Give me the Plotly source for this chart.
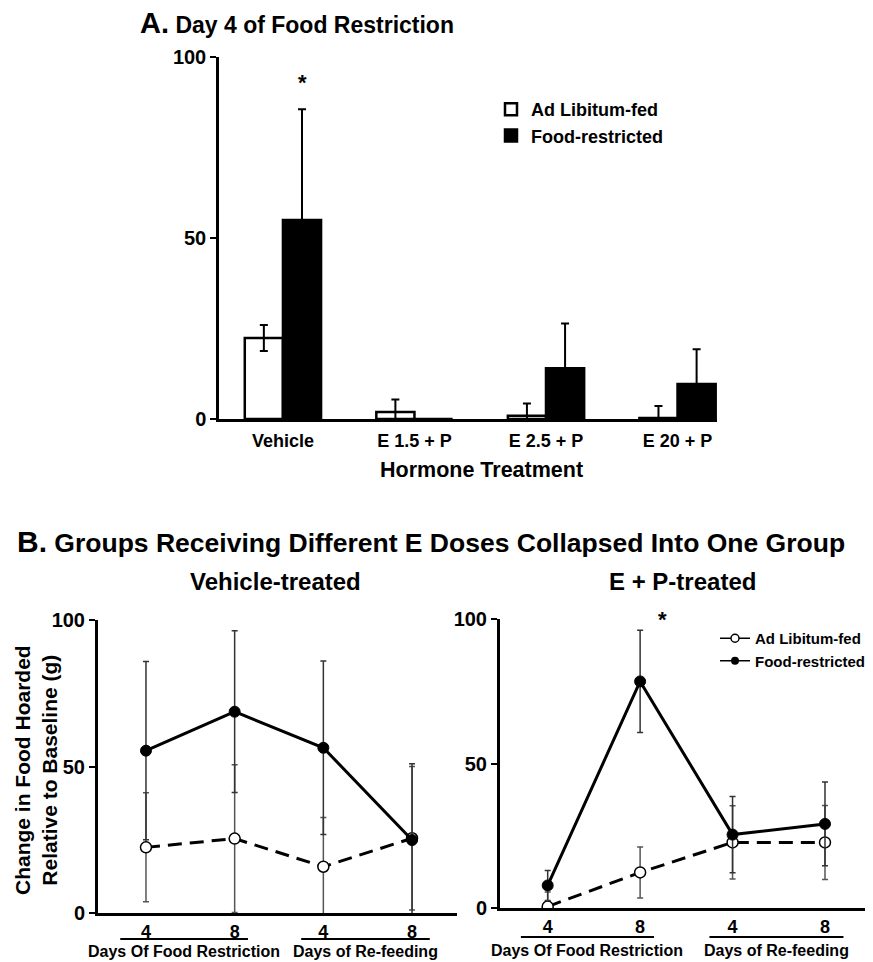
import plotly.graph_objects as go

# page has an 8px body margin; figure sized to fill the visible window
OFF = 8
W, H = 873 - OFF, 962 - OFF

# ---------------- Data ----------------
# Panel A
treatments = ["Vehicle", "E 1.5 + P", "E 2.5 + P", "E 20 + P"]
a_adlib = [22.4, 1.9, 0.9, 0.3]
a_adlib_err = [3.6, 3.5, 3.4, 3.3]
a_restr = [55.0, 0.0, 14.0, 9.7]
a_restr_err = [30.6, 0.0, 12.4, 9.6]

# Panel B
day_ticks = ["4", "8", "4", "8"]
day_pos = [0, 1, 2, 3]
veh_restr = [55.4, 68.7, 56.4, 24.9]
veh_restr_err = [30.4, 27.6, 29.6, 26.0]
veh_adlib = [22.4, 25.4, 15.8, 25.5]
veh_adlib_err = [18.6, 25.2, 16.8, 24.5]
ep_restr = [7.8, 78.4, 25.4, 29.1]
ep_restr_err = [5.2, 17.7, 13.2, 14.5]
ep_adlib = [0.5, 12.3, 22.7, 22.7]
ep_adlib_err = [5.0, 8.8, 12.7, 12.8]

FONT = "Liberation Sans, Arial, Helvetica, sans-serif"

def px_x(p):
    return (p - OFF) / W

def px_y(p):
    return 1 - (p - OFF) / H

fig = go.Figure()

# ---------------- Panel A bars ----------------
fig.add_trace(go.Bar(
    x=treatments, y=a_adlib, name="Ad Libitum-fed",
    marker=dict(color="white", line=dict(color="black", width=2.5)),
    error_y=dict(type="data", array=a_adlib_err, visible=True,
                 color="black", thickness=2, width=4),
    xaxis="x", yaxis="y", legend="legend",
))
fig.add_trace(go.Bar(
    x=treatments, y=a_restr, name="Food-restricted",
    marker=dict(color="black", line=dict(color="black", width=2.5)),
    error_y=dict(type="data", array=a_restr_err, visible=True,
                 color="black", thickness=2, width=4),
    xaxis="x", yaxis="y", legend="legend",
))

# ---------------- Panel B lines ----------------
def add_pair(xa, ya, adlib, adlib_err, restr, restr_err):
    fig.add_trace(go.Scatter(
        x=day_pos, y=adlib, mode="lines+markers", showlegend=False,
        line=dict(color="black", width=3, dash="14px,8px"),
        marker=dict(size=11, color="white", line=dict(color="black", width=1.5)),
        error_y=dict(type="data", array=adlib_err, visible=True,
                     color="#555555", thickness=1.5, width=3),
        xaxis=xa, yaxis=ya, cliponaxis=True,
    ))
    fig.add_trace(go.Scatter(
        x=day_pos, y=restr, mode="lines+markers", showlegend=False,
        line=dict(color="black", width=3),
        marker=dict(size=11, color="black", line=dict(color="black", width=1)),
        error_y=dict(type="data", array=restr_err, visible=True,
                     color="#333333", thickness=1.5, width=3),
        xaxis=xa, yaxis=ya, cliponaxis=True,
    ))

add_pair("x2", "y2", veh_adlib, veh_adlib_err, veh_restr, veh_restr_err)
add_pair("x3", "y3", ep_adlib, ep_adlib_err, ep_restr, ep_restr_err)

# legend-only entries for panel B
fig.add_trace(go.Scatter(
    x=[None], y=[None], mode="lines+markers", name="Ad Libitum-fed",
    line=dict(color="black", width=1.5),
    marker=dict(size=8, color="white", line=dict(color="black", width=1.5)),
    xaxis="x3", yaxis="y3", legend="legend2",
))
fig.add_trace(go.Scatter(
    x=[None], y=[None], mode="lines+markers", name="Food-restricted",
    line=dict(color="black", width=1.5),
    marker=dict(size=8, color="black"),
    xaxis="x3", yaxis="y3", legend="legend2",
))

# ---------------- Axes ----------------
common_x = dict(showline=True, linecolor="black", showgrid=False, zeroline=False,
                ticks="", fixedrange=True, automargin=False,
                tickfont=dict(family=FONT, size=18, color="black", weight="bold"))
common_y = dict(showline=True, linecolor="black", showgrid=False, zeroline=False,
                ticks="outside", ticklen=6, tickwidth=2, tickcolor="black",
                range=[0, 100], tickvals=[0, 50, 100], automargin=False,
                tickfont=dict(family=FONT, size=20, color="black", weight="bold"))

fig.update_layout(
    xaxis=dict(common_x, domain=[px_x(219), px_x(717)], range=[-0.486, 3.30],
               type="category", categoryorder="array", categoryarray=treatments,
               linewidth=2.5, anchor="y", ticklabelstandoff=4),
    yaxis=dict(common_y, domain=[px_y(419), px_y(57)], linewidth=2.5, anchor="x"),
    xaxis2=dict(common_x, domain=[px_x(98), px_x(457)], range=[-0.541, 3.507],
                tickvals=day_pos, ticktext=day_ticks, linewidth=3, anchor="y2"),
    yaxis2=dict(common_y, domain=[px_y(913), px_y(620)], linewidth=3, anchor="x2"),
    xaxis3=dict(common_x, domain=[px_x(500), min(1.0, px_x(870))], range=[-0.516, 3.487],
                tickvals=day_pos, ticktext=day_ticks, linewidth=3, anchor="y3"),
    yaxis3=dict(common_y, domain=[px_y(908), px_y(619)], linewidth=3, anchor="x3"),
)

fig.update_layout(
    width=W, height=H,
    margin=dict(l=0, r=0, t=0, b=0, pad=0, autoexpand=False),
    paper_bgcolor="white", plot_bgcolor="white",
    barmode="group", bargap=0.42, bargroupgap=0,
    font=dict(family=FONT, color="black"),
    legend=dict(x=px_x(491), y=px_y(91), xanchor="left", yanchor="top",
                bgcolor="rgba(0,0,0,0)", tracegroupgap=0,
                font=dict(family=FONT, size=18, color="black", weight="bold")),
    legend2=dict(x=px_x(715), y=px_y(622), xanchor="left", yanchor="top",
                 bgcolor="rgba(0,0,0,0)", tracegroupgap=0,
                 font=dict(family=FONT, size=15, color="black", weight="bold")),
)

# ---------------- Text annotations ----------------
ann = []
def text(x, y, s, size, xanchor="center", textangle=0):
    ann.append(dict(x=px_x(x), y=px_y(y), xref="paper", yref="paper", text=s,
                    showarrow=False, xanchor=xanchor, yanchor="middle",
                    textangle=textangle,
                    font=dict(family=FONT, size=size, color="black", weight="bold")))

text(138, 23, "<span style='font-size:29px'>A.</span> Day 4 of Food Restriction", 23, xanchor="left")
text(481, 470, "Hormone Treatment", 21.5)
text(302, 82, "*", 22)
text(15, 541, "<span style='font-size:30px'>B.</span> Groups Receiving Different E Doses Collapsed Into One Group", 26.5, xanchor="left")
text(275, 581, "Vehicle-treated", 24)
text(682, 581, "E + P-treated", 24)
text(662, 619, "*", 22)
text(36, 770, "Change in Food Hoarded<br>Relative to Baseline (g)", 21, textangle=-90)

# group labels under panel B x axes
shapes = []
groups = [("x2", 951, "Days Of Food Restriction", "Days of Re-feeding", 939),
          ("x3", 950, "Days Of Food Restriction", "Days of Re-feeding", 937)]
for xa, ty, g1, g2, ly in groups:
    for (x0, x1, lab) in [(-0.29, 1.15, g1), (1.75, 3.2, g2)]:
        shapes.append(dict(type="line", xref=xa, yref="paper", x0=x0, x1=x1,
                           y0=px_y(ly), y1=px_y(ly), line=dict(color="black", width=2)))
        ann.append(dict(x=(x0 + x1) / 2, y=px_y(ty), xref=xa, yref="paper", text=lab,
                        showarrow=False, xanchor="center", yanchor="middle",
                        font=dict(family=FONT, size=16, color="black", weight="bold")))

fig.update_layout(annotations=ann, shapes=shapes)

fig.write_html("out.html")
